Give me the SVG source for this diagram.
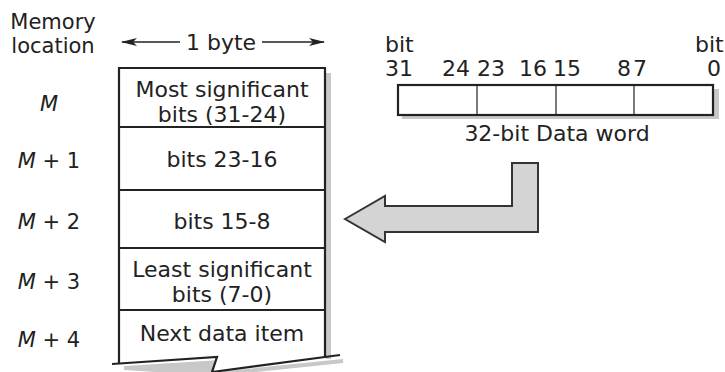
<svg xmlns="http://www.w3.org/2000/svg" width="725" height="372" viewBox="0 0 725 372">
<style>
text{font-family:"DejaVu Sans","Liberation Sans",sans-serif;font-size:22px;fill:#222}
.lbl{font-size:21px}
.mid{text-anchor:middle}
.it{font-style:italic}
.edge{stroke:#222;stroke-width:2.2;fill:none}
.thin{stroke:#222;stroke-width:1.2;fill:none}
.shadow{fill:#c8c8c8;stroke:none}
</style>
<defs>
<marker id="ah" viewBox="0 0 16 8" refX="15" refY="4" markerWidth="16" markerHeight="8" markerUnits="userSpaceOnUse" orient="auto-start-reverse">
<path d="M0,0 L16,4 L0,8 L4,4 Z" fill="#222"/>
</marker>
</defs>
<rect width="725" height="372" fill="#fff"/>

<g id="header">
<text class="lbl mid" x="53" y="29">Memory</text>
<text class="lbl mid" x="53" y="53">location</text>
<text class="mid" x="221" y="50">1 byte</text>
</g>

<g id="byte-width">
<line x1="122" y1="42" x2="180" y2="42" stroke="#222" stroke-width="1.5" marker-start="url(#ah)"/>
<line x1="262" y1="42" x2="324" y2="42" stroke="#222" stroke-width="1.5" marker-end="url(#ah)"/>
</g>

<g id="addresses">
<text class="lbl mid it" x="49" y="111">M</text>
<text class="lbl mid" x="49" y="168"><tspan class="it">M</tspan> + 1</text>
<text class="lbl mid" x="49" y="229"><tspan class="it">M</tspan> + 2</text>
<text class="lbl mid" x="49" y="289"><tspan class="it">M</tspan> + 3</text>
<text class="lbl mid" x="49" y="347"><tspan class="it">M</tspan> + 4</text>
</g>

<g id="memory">
<rect class="shadow" x="326" y="73" width="5" height="286"/>
<path class="shadow" d="M124,366 L221,360 L216,372 L343,359 L343,363 L218,376 L124,370 Z"/>
<path d="M119,68 L325,68 L325,358 L340,356 L212,372 L217,357 L119,363 Z" fill="#fff"/>
<path class="edge" d="M119,363 L119,68 L325,68 L325,358"/>
<path class="edge" d="M112,364 L217,357 L212,372 L340,355"/>
<line class="edge" x1="119" y1="127" x2="325" y2="127"/>
<line class="edge" x1="119" y1="190" x2="325" y2="190"/>
<line class="edge" x1="119" y1="248" x2="325" y2="248"/>
<line class="edge" x1="119" y1="310" x2="325" y2="310"/>
</g>

<g id="cells">
<text class="mid" x="222" y="97">Most significant</text>
<text class="mid" x="222" y="122">bits (31-24)</text>
<text class="mid" x="222" y="167">bits 23-16</text>
<text class="mid" x="222" y="229">bits 15-8</text>
<text class="mid" x="222" y="277">Least significant</text>
<text class="mid" x="222" y="302">bits (7-0)</text>
<text class="mid" x="222" y="341">Next data item</text>
</g>

<g id="dataword">
<rect class="shadow" x="714" y="89" width="5" height="30"/>
<rect class="shadow" x="402" y="116" width="317" height="3"/>
<rect x="398" y="85" width="315" height="30" fill="#fff" stroke="#222" stroke-width="2.2"/>
<line class="thin" x1="477" y1="85" x2="477" y2="115"/>
<line class="thin" x1="556" y1="85" x2="556" y2="115"/>
<line class="thin" x1="634" y1="85" x2="634" y2="115"/>
<text x="385" y="52">bit</text>
<text x="695" y="52">bit</text>
<text x="385" y="76">31</text>
<text x="442" y="76">24</text>
<text x="477" y="76">23</text>
<text x="519" y="76">16</text>
<text x="553" y="76">15</text>
<text x="617" y="76">8</text>
<text x="633" y="76">7</text>
<text x="707" y="76">0</text>
<text class="mid" x="557" y="141">32-bit Data word</text>
</g>

<g id="connectors">
<polygon points="345,219 385,196 385,206 512,206 512,163 538,163 538,232 385,232 385,242" fill="#d4d4d4" stroke="#333" stroke-width="2" stroke-linejoin="miter"/>
</g>
</svg>
